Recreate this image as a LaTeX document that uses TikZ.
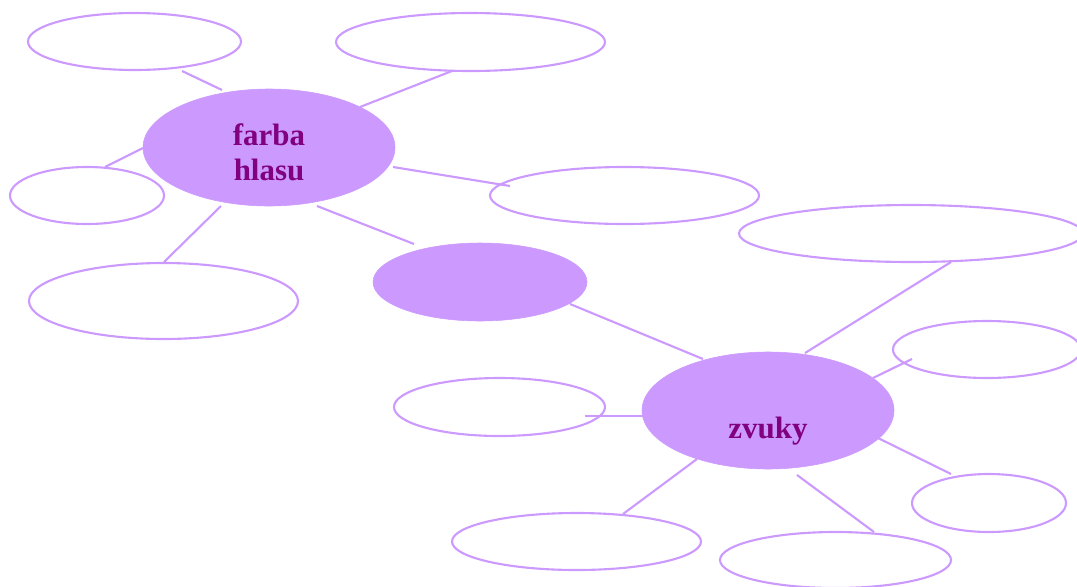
\documentclass[tikz,border=0pt]{standalone}
\usepackage{fontspec}
\setmainfont{Liberation Serif}
\usepackage{xcolor}
\usetikzlibrary{shapes.geometric}

\definecolor{lilac}{HTML}{CC99FF}
\definecolor{plum}{HTML}{800080}

\begin{document}
\begin{tikzpicture}[x=0.25mm, y=-0.25mm,
    hub/.style={shape=ellipse, inner sep=0pt, fill=lilac, draw=lilac, text=plum,
      font=\fontsize{22}{25}\selectfont\bfseries, align=center},
    leaf/.style={shape=ellipse, inner sep=0pt, draw=lilac, line width=1.5pt},
    link/.style={draw=lilac, line width=1.5pt}]
    \useasboundingbox (0,0) rectangle (1077,586);

    % centres
    \node[hub, minimum width=63mm, minimum height=29.25mm] (fh) at (269,147.5) {\rule{0pt}{22pt}farba\\hlasu};
    \node[hub, minimum width=53.5mm, minimum height=19.5mm] (mid) at (480,282) {};
    \node[hub, minimum width=63mm, minimum height=29.25mm] (zv) at (768,410.5) {\raisebox{-6.9mm}[0pt][0pt]{zvuky}};

    % empty bubbles
    \node[leaf, minimum width=53.25mm, minimum height=14.25mm] (t1) at (134.5,41.5) {};
    \node[leaf, minimum width=67.25mm, minimum height=14.5mm] (t2) at (470.5,42) {};
    \node[leaf, minimum width=38.5mm, minimum height=14.25mm] (t3) at (87,195.5) {};
    \node[leaf, minimum width=67.25mm, minimum height=19mm] (t4) at (163.5,301) {};
    \node[leaf, minimum width=67.25mm, minimum height=14.25mm] (t5) at (624.5,195.5) {};
    \node[leaf, minimum width=86mm, minimum height=14.25mm] (t6) at (911,233.5) {};
    \node[leaf, minimum width=47mm, minimum height=14.25mm] (t7) at (987,349.5) {};
    \node[leaf, minimum width=52.75mm, minimum height=14.5mm] (t8) at (499.5,407) {};
    \node[leaf, minimum width=38.5mm, minimum height=14.5mm] (t9) at (989,503) {};
    \node[leaf, minimum width=62.25mm, minimum height=14.25mm] (t10) at (576.5,541.5) {};
    \node[leaf, minimum width=57.75mm, minimum height=14mm] (t11) at (835.5,560) {};

    % links around farba hlasu
    \draw[link] ([shift={(47.5,29.5)}]t1.center) -- ([shift={(-47,-57.5)}]fh.center);
    \draw[link] ([shift={(91,-40.5)}]fh.center) -- ([shift={(-18.5,29)}]t2.center);
    \draw[link] ([shift={(18,-28.5)}]t3.center) -- ([shift={(-126,0.5)}]fh.center);
    \draw[link] ([shift={(0.5,-39)}]t4.center) -- ([shift={(-48,58.5)}]fh.center);
    \draw[link] ([shift={(124,19.5)}]fh.center) -- ([shift={(-114.5,-9.5)}]t5.center);
    \draw[link] ([shift={(48,58.5)}]fh.center) -- ([shift={(-66,-38)}]mid.center);
    \draw[link] ([shift={(90,22)}]mid.center) -- ([shift={(-65,-51.5)}]zv.center);
    % links around zvuky
    \draw[link] ([shift={(37,-57.5)}]zv.center) -- ([shift={(40,28.5)}]t6.center);
    \draw[link] ([shift={(105,-32.5)}]zv.center) -- ([shift={(-75,9.5)}]t7.center);
    \draw[link] ([shift={(85.5,9)}]t8.center) -- ([shift={(-123,5.5)}]zv.center);
    \draw[link] ([shift={(110,27.5)}]zv.center) -- ([shift={(-38,-29)}]t9.center);
    \draw[link] ([shift={(46.5,-27.5)}]t10.center) -- ([shift={(-71,48.5)}]zv.center);
    \draw[link] ([shift={(29,64.5)}]zv.center) -- ([shift={(38.5,-28)}]t11.center);
\end{tikzpicture}
\end{document}
